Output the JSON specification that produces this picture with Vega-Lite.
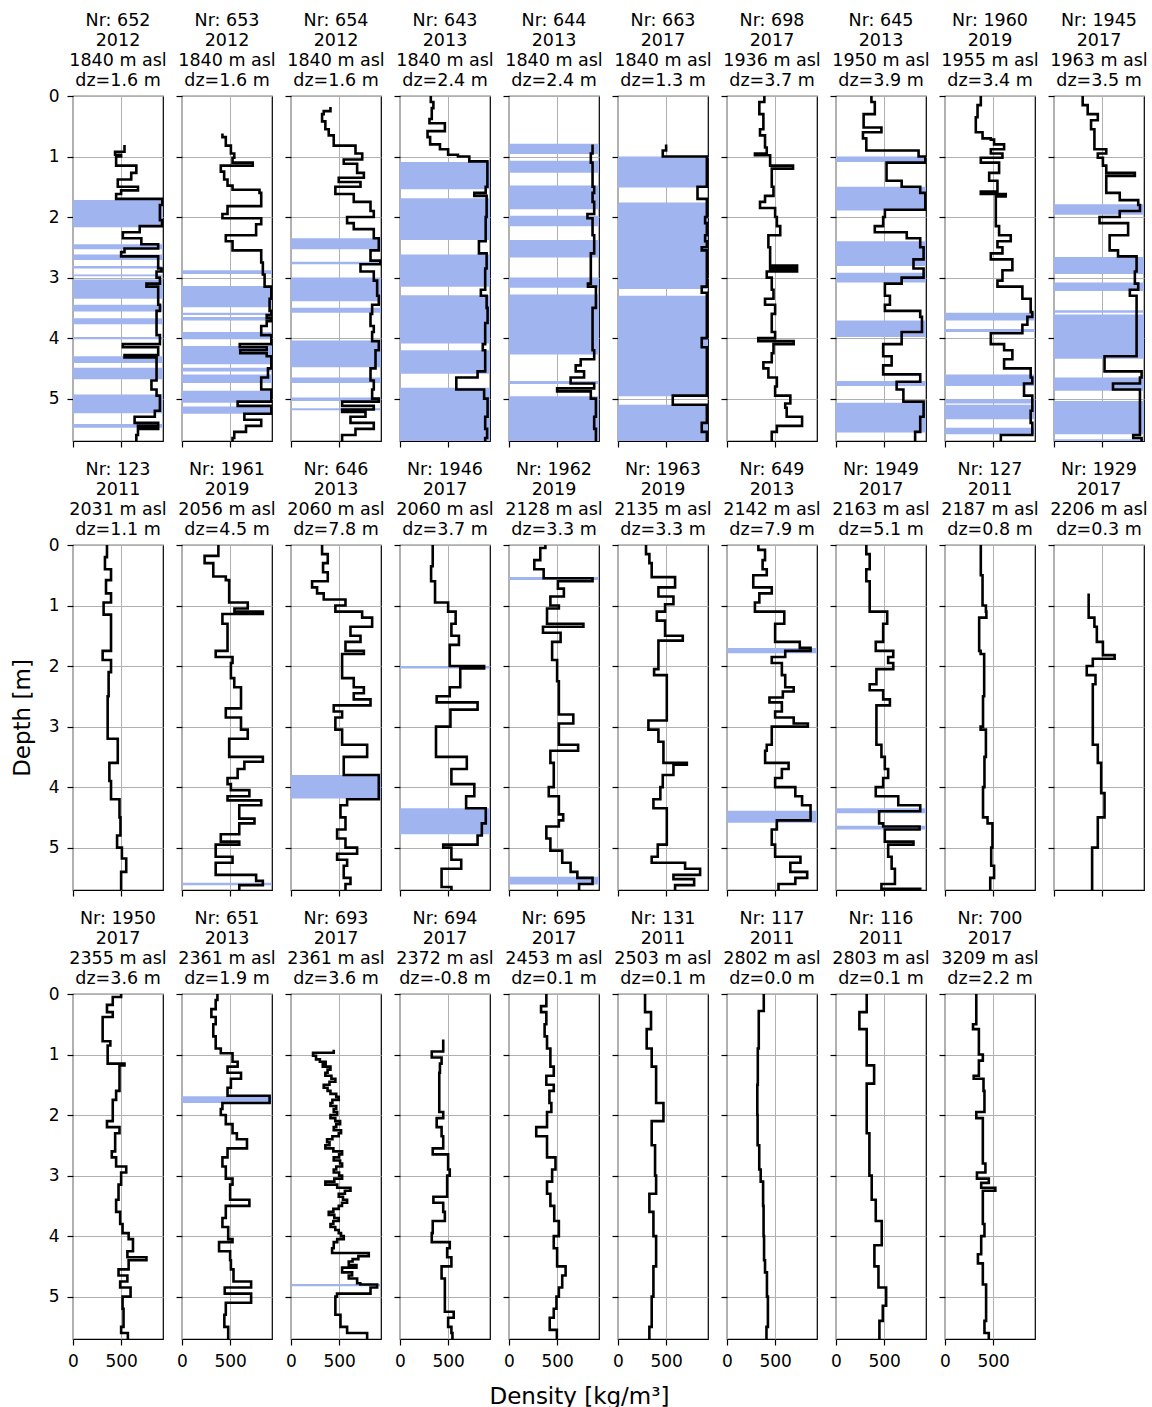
{
"$schema": "https://vega.github.io/schema/vega-lite/v6.json",
"padding": {"left": 10, "top": 10, "right": 5, "bottom": 5},
"title": {"text": "Density [kg/m³]", "orient": "bottom", "anchor": "middle", "fontSize": 23, "lineHeight": 23, "offset": 16},
"datasets": {
"b": [
{"p":652,"d":1.72,"e":2.17},{"p":652,"d":2.45,"e":2.53},{"p":652,"d":2.62,"e":2.71},{"p":652,"d":2.81,"e":2.85},{"p":652,"d":2.95,"e":2.98},{"p":652,"d":3.03,"e":3.35},{"p":652,"d":3.45,"e":3.56},{"p":652,"d":3.67,"e":3.77},{"p":652,"d":3.98,"e":4.02},{"p":652,"d":4.30,"e":4.41},{"p":652,"d":4.49,"e":4.68},{"p":652,"d":4.93,"e":5.24},{"p":652,"d":5.42,"e":5.48},
{"p":653,"d":2.88,"e":2.94},{"p":653,"d":3.14,"e":3.49},{"p":653,"d":3.58,"e":3.62},{"p":653,"d":3.65,"e":3.71},{"p":653,"d":3.9,"e":4.02},{"p":653,"d":4.13,"e":4.43},{"p":653,"d":4.49,"e":4.55},{"p":653,"d":4.6,"e":4.74},{"p":653,"d":4.87,"e":5.07},{"p":653,"d":5.13,"e":5.25},
{"p":654,"d":2.35,"e":2.53},{"p":654,"d":2.74,"e":2.78},{"p":654,"d":3.0,"e":3.39},{"p":654,"d":3.5,"e":3.58},{"p":654,"d":4.04,"e":4.48},{"p":654,"d":4.65,"e":4.74},{"p":654,"d":4.98,"e":5.04},{"p":654,"d":5.16,"e":5.19},
{"p":643,"d":1.09,"e":1.54},{"p":643,"d":1.69,"e":2.38},{"p":643,"d":2.62,"e":3.15},{"p":643,"d":3.29,"e":4.09},{"p":643,"d":4.2,"e":4.59},{"p":643,"d":4.82,"e":5.7},
{"p":644,"d":0.79,"e":0.96},{"p":644,"d":1.07,"e":1.27},{"p":644,"d":1.48,"e":1.87},{"p":644,"d":1.98,"e":2.15},{"p":644,"d":2.38,"e":2.67},{"p":644,"d":3.0,"e":3.17},{"p":644,"d":3.28,"e":4.27},{"p":644,"d":4.71,"e":4.76},{"p":644,"d":4.96,"e":5.7},
{"p":663,"d":1.0,"e":1.51},{"p":663,"d":1.76,"e":3.19},{"p":663,"d":3.3,"e":4.96},{"p":663,"d":5.1,"e":5.7},
{"p":645,"d":1.0,"e":1.09},{"p":645,"d":1.5,"e":1.89},{"p":645,"d":2.4,"e":2.81},{"p":645,"d":2.92,"e":3.08},{"p":645,"d":3.71,"e":3.98},{"p":645,"d":4.71,"e":4.79},{"p":645,"d":5.07,"e":5.56},
{"p":1960,"d":3.58,"e":3.71},{"p":1960,"d":3.85,"e":3.9},{"p":1960,"d":4.6,"e":4.79},{"p":1960,"d":5.01,"e":5.08},{"p":1960,"d":5.1,"e":5.34},{"p":1960,"d":5.48,"e":5.59},
{"p":1945,"d":1.79,"e":1.96},{"p":1945,"d":2.66,"e":2.94},{"p":1945,"d":3.08,"e":3.22},{"p":1945,"d":3.54,"e":3.58},{"p":1945,"d":3.61,"e":4.34},{"p":1945,"d":4.65,"e":4.87},{"p":1945,"d":5.04,"e":5.59},{"p":1945,"d":5.67,"e":5.7},
{"p":1961,"d":5.58,"e":5.62},
{"p":646,"d":3.8,"e":4.19},
{"p":1946,"d":2.0,"e":2.04},{"p":1946,"d":4.35,"e":4.78},
{"p":1962,"d":0.53,"e":0.58},{"p":1962,"d":5.48,"e":5.61},
{"p":649,"d":1.7,"e":1.79},{"p":649,"d":4.39,"e":4.59},
{"p":1949,"d":4.35,"e":4.43},{"p":1949,"d":4.64,"e":4.7},
{"p":651,"d":1.69,"e":1.8},
{"p":693,"d":4.79,"e":4.83}
],
"l": [
{"p":652,"d":0.81,"v":535},{"p":652,"d":0.92,"v":437},{"p":652,"d":0.97,"v":500},{"p":652,"d":1.0,"v":448},{"p":652,"d":1.15,"v":658},{"p":652,"d":1.27,"v":605},{"p":652,"d":1.38,"v":465},{"p":652,"d":1.5,"v":675},{"p":652,"d":1.56,"v":500},{"p":652,"d":1.62,"v":448},{"p":652,"d":1.7,"v":928},{"p":652,"d":1.8,"v":903},{"p":652,"d":2.05,"v":925},{"p":652,"d":2.15,"v":693},{"p":652,"d":2.25,"v":518},{"p":652,"d":2.35,"v":710},{"p":652,"d":2.45,"v":885},{"p":652,"d":2.52,"v":535},{"p":652,"d":2.58,"v":500},{"p":652,"d":2.65,"v":885},{"p":652,"d":2.85,"v":920},{"p":652,"d":2.9,"v":868},{"p":652,"d":3.0,"v":903},{"p":652,"d":3.1,"v":763},{"p":652,"d":3.15,"v":885},{"p":652,"d":3.45,"v":903},{"p":652,"d":3.55,"v":868},{"p":652,"d":3.95,"v":903},{"p":652,"d":4.1,"v":518},{"p":652,"d":4.15,"v":885},{"p":652,"d":4.28,"v":535},{"p":652,"d":4.32,"v":868},{"p":652,"d":4.7,"v":815},{"p":652,"d":4.85,"v":868},{"p":652,"d":4.95,"v":903},{"p":652,"d":5.2,"v":850},{"p":652,"d":5.3,"v":640},{"p":652,"d":5.4,"v":885},{"p":652,"d":5.45,"v":675},{"p":652,"d":5.48,"v":885},{"p":652,"d":5.5,"v":675},{"p":652,"d":5.6,"v":658},{"p":652,"d":5.7,"v":658},
{"p":653,"d":0.62,"v":420},{"p":653,"d":0.68,"v":455},{"p":653,"d":0.82,"v":508},{"p":653,"d":0.95,"v":543},{"p":653,"d":1.02,"v":525},{"p":653,"d":1.1,"v":735},{"p":653,"d":1.15,"v":403},{"p":653,"d":1.25,"v":438},{"p":653,"d":1.38,"v":473},{"p":653,"d":1.48,"v":525},{"p":653,"d":1.55,"v":805},{"p":653,"d":1.6,"v":823},{"p":653,"d":1.82,"v":473},{"p":653,"d":1.95,"v":420},{"p":653,"d":2.02,"v":823},{"p":653,"d":2.12,"v":770},{"p":653,"d":2.3,"v":455},{"p":653,"d":2.4,"v":525},{"p":653,"d":2.55,"v":823},{"p":653,"d":2.75,"v":840},{"p":653,"d":2.95,"v":858},{"p":653,"d":3.15,"v":928},{"p":653,"d":3.35,"v":910},{"p":653,"d":3.55,"v":928},{"p":653,"d":3.62,"v":880},{"p":653,"d":3.67,"v":928},{"p":653,"d":3.72,"v":880},{"p":653,"d":3.8,"v":823},{"p":653,"d":3.95,"v":928},{"p":653,"d":4.1,"v":600},{"p":653,"d":4.15,"v":880},{"p":653,"d":4.2,"v":605},{"p":653,"d":4.25,"v":880},{"p":653,"d":4.3,"v":928},{"p":653,"d":4.5,"v":893},{"p":653,"d":4.65,"v":823},{"p":653,"d":4.85,"v":928},{"p":653,"d":5.05,"v":578},{"p":653,"d":5.12,"v":928},{"p":653,"d":5.25,"v":648},{"p":653,"d":5.35,"v":823},{"p":653,"d":5.45,"v":665},{"p":653,"d":5.55,"v":543},{"p":653,"d":5.65,"v":525},{"p":653,"d":5.7,"v":525},
{"p":654,"d":0.18,"v":410},{"p":654,"d":0.25,"v":340},{"p":654,"d":0.3,"v":323},{"p":654,"d":0.42,"v":357},{"p":654,"d":0.55,"v":392},{"p":654,"d":0.65,"v":444},{"p":654,"d":0.82,"v":670},{"p":654,"d":0.95,"v":740},{"p":654,"d":1.05,"v":548},{"p":654,"d":1.12,"v":687},{"p":654,"d":1.27,"v":757},{"p":654,"d":1.35,"v":496},{"p":654,"d":1.42,"v":722},{"p":654,"d":1.5,"v":461},{"p":654,"d":1.62,"v":652},{"p":654,"d":1.75,"v":826},{"p":654,"d":1.9,"v":860},{"p":654,"d":2.0,"v":583},{"p":654,"d":2.1,"v":652},{"p":654,"d":2.2,"v":860},{"p":654,"d":2.35,"v":912},{"p":654,"d":2.55,"v":826},{"p":654,"d":2.72,"v":928},{"p":654,"d":2.78,"v":722},{"p":654,"d":2.9,"v":860},{"p":654,"d":3.05,"v":895},{"p":654,"d":3.3,"v":912},{"p":654,"d":3.45,"v":843},{"p":654,"d":3.6,"v":826},{"p":654,"d":3.8,"v":860},{"p":654,"d":3.9,"v":843},{"p":654,"d":4.05,"v":912},{"p":654,"d":4.2,"v":878},{"p":654,"d":4.5,"v":826},{"p":654,"d":4.7,"v":860},{"p":654,"d":4.85,"v":843},{"p":654,"d":5.0,"v":912},{"p":654,"d":5.05,"v":531},{"p":654,"d":5.12,"v":860},{"p":654,"d":5.18,"v":531},{"p":654,"d":5.22,"v":774},{"p":654,"d":5.3,"v":618},{"p":654,"d":5.4,"v":860},{"p":654,"d":5.5,"v":670},{"p":654,"d":5.6,"v":531},{"p":654,"d":5.7,"v":531},
{"p":643,"d":0,"v":320},{"p":643,"d":0.1,"v":347},{"p":643,"d":0.2,"v":330},{"p":643,"d":0.38,"v":306},{"p":643,"d":0.45,"v":466},{"p":643,"d":0.58,"v":286},{"p":643,"d":0.68,"v":313},{"p":643,"d":0.8,"v":415},{"p":643,"d":0.88,"v":500},{"p":643,"d":0.97,"v":602},{"p":643,"d":1.0,"v":720},{"p":643,"d":1.08,"v":908},{"p":643,"d":1.5,"v":890},{"p":643,"d":1.6,"v":772},{"p":643,"d":1.65,"v":900},{"p":643,"d":2.0,"v":890},{"p":643,"d":2.4,"v":820},{"p":643,"d":2.6,"v":900},{"p":643,"d":2.85,"v":885},{"p":643,"d":3.2,"v":840},{"p":643,"d":3.3,"v":900},{"p":643,"d":3.5,"v":910},{"p":643,"d":3.75,"v":885},{"p":643,"d":4.1,"v":860},{"p":643,"d":4.2,"v":885},{"p":643,"d":4.55,"v":806},{"p":643,"d":4.65,"v":585},{"p":643,"d":4.85,"v":874},{"p":643,"d":5.0,"v":910},{"p":643,"d":5.3,"v":885},{"p":643,"d":5.5,"v":905},{"p":643,"d":5.65,"v":885},{"p":643,"d":5.7,"v":885},
{"p":644,"d":0.8,"v":868},{"p":644,"d":0.95,"v":850},{"p":644,"d":1.1,"v":868},{"p":644,"d":1.5,"v":885},{"p":644,"d":1.6,"v":868},{"p":644,"d":1.75,"v":885},{"p":644,"d":1.95,"v":815},{"p":644,"d":2.02,"v":868},{"p":644,"d":2.3,"v":885},{"p":644,"d":2.6,"v":850},{"p":644,"d":3.1,"v":820},{"p":644,"d":3.15,"v":903},{"p":644,"d":3.5,"v":868},{"p":644,"d":4.2,"v":885},{"p":644,"d":4.35,"v":745},{"p":644,"d":4.45,"v":693},{"p":644,"d":4.55,"v":780},{"p":644,"d":4.65,"v":640},{"p":644,"d":4.75,"v":885},{"p":644,"d":4.83,"v":500},{"p":644,"d":4.88,"v":850},{"p":644,"d":5.0,"v":903},{"p":644,"d":5.3,"v":885},{"p":644,"d":5.5,"v":903},{"p":644,"d":5.7,"v":903},
{"p":663,"d":0.8,"v":500},{"p":663,"d":0.9,"v":465},{"p":663,"d":1.0,"v":923},{"p":663,"d":1.5,"v":826},{"p":663,"d":1.7,"v":923},{"p":663,"d":2.0,"v":905},{"p":663,"d":2.1,"v":923},{"p":663,"d":2.3,"v":905},{"p":663,"d":2.4,"v":923},{"p":663,"d":2.5,"v":870},{"p":663,"d":2.55,"v":923},{"p":663,"d":3.15,"v":870},{"p":663,"d":3.25,"v":923},{"p":663,"d":4.0,"v":870},{"p":663,"d":4.15,"v":923},{"p":663,"d":4.95,"v":569},{"p":663,"d":5.1,"v":923},{"p":663,"d":5.4,"v":870},{"p":663,"d":5.55,"v":923},{"p":663,"d":5.7,"v":923},
{"p":698,"d":0,"v":388},{"p":698,"d":0.1,"v":336},{"p":698,"d":0.3,"v":378},{"p":698,"d":0.55,"v":343},{"p":698,"d":0.65,"v":395},{"p":698,"d":0.85,"v":413},{"p":698,"d":0.95,"v":290},{"p":698,"d":0.98,"v":448},{"p":698,"d":1.15,"v":686},{"p":698,"d":1.2,"v":465},{"p":698,"d":1.5,"v":483},{"p":698,"d":1.65,"v":395},{"p":698,"d":1.75,"v":343},{"p":698,"d":1.85,"v":500},{"p":698,"d":2.0,"v":518},{"p":698,"d":2.15,"v":553},{"p":698,"d":2.3,"v":430},{"p":698,"d":2.5,"v":448},{"p":698,"d":2.8,"v":728},{"p":698,"d":2.83,"v":448},{"p":698,"d":2.86,"v":728},{"p":698,"d":2.9,"v":413},{"p":698,"d":3.0,"v":465},{"p":698,"d":3.2,"v":483},{"p":698,"d":3.35,"v":395},{"p":698,"d":3.45,"v":500},{"p":698,"d":3.6,"v":465},{"p":698,"d":3.9,"v":500},{"p":698,"d":4.0,"v":325},{"p":698,"d":4.05,"v":693},{"p":698,"d":4.1,"v":483},{"p":698,"d":4.25,"v":465},{"p":698,"d":4.4,"v":378},{"p":698,"d":4.5,"v":430},{"p":698,"d":4.65,"v":518},{"p":698,"d":4.8,"v":500},{"p":698,"d":4.95,"v":658},{"p":698,"d":5.08,"v":605},{"p":698,"d":5.15,"v":620},{"p":698,"d":5.3,"v":780},{"p":698,"d":5.45,"v":518},{"p":698,"d":5.55,"v":465},{"p":698,"d":5.7,"v":465},
{"p":645,"d":0,"v":368},{"p":645,"d":0.1,"v":403},{"p":645,"d":0.3,"v":287},{"p":645,"d":0.52,"v":472},{"p":645,"d":0.6,"v":280},{"p":645,"d":0.7,"v":315},{"p":645,"d":0.9,"v":858},{"p":645,"d":1.0,"v":928},{"p":645,"d":1.1,"v":525},{"p":645,"d":1.4,"v":682},{"p":645,"d":1.5,"v":875},{"p":645,"d":1.6,"v":928},{"p":645,"d":1.88,"v":508},{"p":645,"d":2.0,"v":490},{"p":645,"d":2.15,"v":403},{"p":645,"d":2.25,"v":735},{"p":645,"d":2.35,"v":875},{"p":645,"d":2.5,"v":910},{"p":645,"d":2.7,"v":805},{"p":645,"d":2.85,"v":910},{"p":645,"d":3.0,"v":682},{"p":645,"d":3.1,"v":508},{"p":645,"d":3.3,"v":560},{"p":645,"d":3.45,"v":508},{"p":645,"d":3.55,"v":875},{"p":645,"d":3.65,"v":893},{"p":645,"d":3.9,"v":682},{"p":645,"d":4.1,"v":490},{"p":645,"d":4.3,"v":578},{"p":645,"d":4.45,"v":490},{"p":645,"d":4.6,"v":875},{"p":645,"d":4.72,"v":630},{"p":645,"d":4.85,"v":700},{"p":645,"d":5.05,"v":910},{"p":645,"d":5.3,"v":875},{"p":645,"d":5.55,"v":822},{"p":645,"d":5.7,"v":822},
{"p":1960,"d":0,"v":372},{"p":1960,"d":0.15,"v":338},{"p":1960,"d":0.35,"v":320},{"p":1960,"d":0.6,"v":390},{"p":1960,"d":0.7,"v":476},{"p":1960,"d":0.72,"v":510},{"p":1960,"d":0.8,"v":614},{"p":1960,"d":0.88,"v":476},{"p":1960,"d":0.95,"v":597},{"p":1960,"d":1.02,"v":372},{"p":1960,"d":1.1,"v":562},{"p":1960,"d":1.27,"v":459},{"p":1960,"d":1.4,"v":545},{"p":1960,"d":1.58,"v":372},{"p":1960,"d":1.62,"v":631},{"p":1960,"d":1.66,"v":528},{"p":1960,"d":2.15,"v":562},{"p":1960,"d":2.3,"v":683},{"p":1960,"d":2.4,"v":545},{"p":1960,"d":2.5,"v":597},{"p":1960,"d":2.6,"v":476},{"p":1960,"d":2.7,"v":700},{"p":1960,"d":2.88,"v":597},{"p":1960,"d":3.05,"v":545},{"p":1960,"d":3.15,"v":804},{"p":1960,"d":3.35,"v":890},{"p":1960,"d":3.57,"v":907},{"p":1960,"d":3.65,"v":856},{"p":1960,"d":3.78,"v":804},{"p":1960,"d":3.92,"v":476},{"p":1960,"d":4.1,"v":614},{"p":1960,"d":4.2,"v":700},{"p":1960,"d":4.35,"v":614},{"p":1960,"d":4.5,"v":890},{"p":1960,"d":4.65,"v":907},{"p":1960,"d":4.75,"v":821},{"p":1960,"d":4.95,"v":907},{"p":1960,"d":5.2,"v":890},{"p":1960,"d":5.4,"v":907},{"p":1960,"d":5.6,"v":580},{"p":1960,"d":5.7,"v":580},
{"p":1945,"d":0,"v":298},{"p":1945,"d":0.15,"v":350},{"p":1945,"d":0.3,"v":455},{"p":1945,"d":0.4,"v":385},{"p":1945,"d":0.55,"v":420},{"p":1945,"d":0.88,"v":543},{"p":1945,"d":0.95,"v":455},{"p":1945,"d":1.02,"v":508},{"p":1945,"d":1.15,"v":543},{"p":1945,"d":1.27,"v":840},{"p":1945,"d":1.32,"v":543},{"p":1945,"d":1.6,"v":683},{"p":1945,"d":1.72,"v":875},{"p":1945,"d":1.8,"v":893},{"p":1945,"d":1.9,"v":683},{"p":1945,"d":2.0,"v":473},{"p":1945,"d":2.1,"v":770},{"p":1945,"d":2.3,"v":578},{"p":1945,"d":2.55,"v":665},{"p":1945,"d":2.65,"v":858},{"p":1945,"d":2.9,"v":840},{"p":1945,"d":3.1,"v":875},{"p":1945,"d":3.2,"v":788},{"p":1945,"d":3.3,"v":858},{"p":1945,"d":4.3,"v":525},{"p":1945,"d":4.55,"v":910},{"p":1945,"d":4.65,"v":893},{"p":1945,"d":4.75,"v":613},{"p":1945,"d":4.85,"v":893},{"p":1945,"d":5.6,"v":823},{"p":1945,"d":5.65,"v":910},{"p":1945,"d":5.7,"v":910},
{"p":123,"d":0,"v":353},{"p":123,"d":0.2,"v":332},{"p":123,"d":0.4,"v":395},{"p":123,"d":0.58,"v":343},{"p":123,"d":0.8,"v":395},{"p":123,"d":0.95,"v":318},{"p":123,"d":1.15,"v":395},{"p":123,"d":1.75,"v":308},{"p":123,"d":1.9,"v":395},{"p":123,"d":2.1,"v":370},{"p":123,"d":2.5,"v":360},{"p":123,"d":3.2,"v":465},{"p":123,"d":3.6,"v":378},{"p":123,"d":3.9,"v":395},{"p":123,"d":4.2,"v":483},{"p":123,"d":4.5,"v":493},{"p":123,"d":4.8,"v":458},{"p":123,"d":5.0,"v":508},{"p":123,"d":5.18,"v":553},{"p":123,"d":5.4,"v":500},{"p":123,"d":5.7,"v":500},
{"p":1961,"d":0,"v":378},{"p":1961,"d":0.18,"v":235},{"p":1961,"d":0.3,"v":325},{"p":1961,"d":0.52,"v":455},{"p":1961,"d":0.58,"v":490},{"p":1961,"d":0.95,"v":683},{"p":1961,"d":1.05,"v":545},{"p":1961,"d":1.1,"v":840},{"p":1961,"d":1.14,"v":420},{"p":1961,"d":1.3,"v":473},{"p":1961,"d":1.75,"v":350},{"p":1961,"d":1.85,"v":525},{"p":1961,"d":1.95,"v":508},{"p":1961,"d":2.2,"v":543},{"p":1961,"d":2.35,"v":613},{"p":1961,"d":2.7,"v":455},{"p":1961,"d":2.85,"v":613},{"p":1961,"d":3.05,"v":683},{"p":1961,"d":3.2,"v":490},{"p":1961,"d":3.5,"v":840},{"p":1961,"d":3.58,"v":648},{"p":1961,"d":3.7,"v":578},{"p":1961,"d":3.85,"v":473},{"p":1961,"d":3.95,"v":508},{"p":1961,"d":4.05,"v":700},{"p":1961,"d":4.15,"v":473},{"p":1961,"d":4.22,"v":823},{"p":1961,"d":4.3,"v":595},{"p":1961,"d":4.52,"v":753},{"p":1961,"d":4.6,"v":595},{"p":1961,"d":4.78,"v":403},{"p":1961,"d":4.9,"v":595},{"p":1961,"d":4.95,"v":350},{"p":1961,"d":5.15,"v":525},{"p":1961,"d":5.25,"v":350},{"p":1961,"d":5.45,"v":770},{"p":1961,"d":5.55,"v":840},{"p":1961,"d":5.62,"v":595},{"p":1961,"d":5.7,"v":595},
{"p":646,"d":0,"v":323},{"p":646,"d":0.15,"v":382},{"p":646,"d":0.3,"v":333},{"p":646,"d":0.45,"v":382},{"p":646,"d":0.6,"v":219},{"p":646,"d":0.7,"v":271},{"p":646,"d":0.8,"v":340},{"p":646,"d":0.9,"v":566},{"p":646,"d":1.0,"v":461},{"p":646,"d":1.1,"v":739},{"p":646,"d":1.2,"v":843},{"p":646,"d":1.35,"v":618},{"p":646,"d":1.5,"v":722},{"p":646,"d":1.6,"v":566},{"p":646,"d":1.75,"v":757},{"p":646,"d":1.8,"v":531},{"p":646,"d":2.2,"v":652},{"p":646,"d":2.35,"v":757},{"p":646,"d":2.45,"v":652},{"p":646,"d":2.55,"v":826},{"p":646,"d":2.65,"v":444},{"p":646,"d":2.75,"v":531},{"p":646,"d":2.85,"v":461},{"p":646,"d":3.05,"v":531},{"p":646,"d":3.3,"v":791},{"p":646,"d":3.5,"v":548},{"p":646,"d":3.8,"v":912},{"p":646,"d":4.2,"v":583},{"p":646,"d":4.3,"v":514},{"p":646,"d":4.5,"v":566},{"p":646,"d":4.7,"v":479},{"p":646,"d":4.85,"v":566},{"p":646,"d":5.0,"v":687},{"p":646,"d":5.1,"v":479},{"p":646,"d":5.2,"v":583},{"p":646,"d":5.3,"v":548},{"p":646,"d":5.5,"v":618},{"p":646,"d":5.6,"v":566},{"p":646,"d":5.7,"v":566},
{"p":1946,"d":0,"v":340},{"p":1946,"d":0.35,"v":323},{"p":1946,"d":0.6,"v":364},{"p":1946,"d":0.95,"v":500},{"p":1946,"d":1.1,"v":578},{"p":1946,"d":1.3,"v":534},{"p":1946,"d":1.5,"v":612},{"p":1946,"d":1.65,"v":517},{"p":1946,"d":2.0,"v":874},{"p":1946,"d":2.04,"v":626},{"p":1946,"d":2.35,"v":517},{"p":1946,"d":2.5,"v":381},{"p":1946,"d":2.6,"v":806},{"p":1946,"d":2.72,"v":524},{"p":1946,"d":3.0,"v":374},{"p":1946,"d":3.5,"v":694},{"p":1946,"d":3.7,"v":534},{"p":1946,"d":3.95,"v":772},{"p":1946,"d":4.15,"v":687},{"p":1946,"d":4.35,"v":891},{"p":1946,"d":4.6,"v":850},{"p":1946,"d":4.8,"v":806},{"p":1946,"d":4.95,"v":449},{"p":1946,"d":5.0,"v":534},{"p":1946,"d":5.2,"v":636},{"p":1946,"d":5.35,"v":432},{"p":1946,"d":5.65,"v":534},{"p":1946,"d":5.7,"v":534},
{"p":1962,"d":0,"v":378},{"p":1962,"d":0.05,"v":325},{"p":1962,"d":0.25,"v":263},{"p":1962,"d":0.4,"v":360},{"p":1962,"d":0.55,"v":868},{"p":1962,"d":0.6,"v":508},{"p":1962,"d":0.72,"v":570},{"p":1962,"d":0.85,"v":430},{"p":1962,"d":1.0,"v":518},{"p":1962,"d":1.05,"v":395},{"p":1962,"d":1.3,"v":773},{"p":1962,"d":1.35,"v":353},{"p":1962,"d":1.45,"v":536},{"p":1962,"d":1.6,"v":448},{"p":1962,"d":1.9,"v":500},{"p":1962,"d":2.25,"v":518},{"p":1962,"d":2.8,"v":668},{"p":1962,"d":2.95,"v":518},{"p":1962,"d":3.3,"v":718},{"p":1962,"d":3.4,"v":430},{"p":1962,"d":3.6,"v":465},{"p":1962,"d":4.0,"v":413},{"p":1962,"d":4.15,"v":518},{"p":1962,"d":4.45,"v":563},{"p":1962,"d":4.55,"v":518},{"p":1962,"d":4.65,"v":388},{"p":1962,"d":4.85,"v":430},{"p":1962,"d":5.05,"v":553},{"p":1962,"d":5.25,"v":640},{"p":1962,"d":5.4,"v":710},{"p":1962,"d":5.5,"v":868},{"p":1962,"d":5.6,"v":728},{"p":1962,"d":5.7,"v":728},
{"p":1963,"d":0,"v":291},{"p":1963,"d":0.15,"v":326},{"p":1963,"d":0.3,"v":350},{"p":1963,"d":0.53,"v":593},{"p":1963,"d":0.7,"v":420},{"p":1963,"d":0.85,"v":576},{"p":1963,"d":0.98,"v":489},{"p":1963,"d":1.1,"v":403},{"p":1963,"d":1.25,"v":489},{"p":1963,"d":1.5,"v":673},{"p":1963,"d":1.58,"v":420},{"p":1963,"d":2.05,"v":375},{"p":1963,"d":2.15,"v":507},{"p":1963,"d":2.9,"v":316},{"p":1963,"d":3.05,"v":420},{"p":1963,"d":3.25,"v":472},{"p":1963,"d":3.6,"v":715},{"p":1963,"d":3.63,"v":576},{"p":1963,"d":3.8,"v":465},{"p":1963,"d":4.0,"v":440},{"p":1963,"d":4.2,"v":368},{"p":1963,"d":4.35,"v":507},{"p":1963,"d":4.95,"v":413},{"p":1963,"d":5.15,"v":350},{"p":1963,"d":5.25,"v":697},{"p":1963,"d":5.35,"v":853},{"p":1963,"d":5.45,"v":576},{"p":1963,"d":5.52,"v":791},{"p":1963,"d":5.62,"v":593},{"p":1963,"d":5.7,"v":593},
{"p":649,"d":0,"v":326},{"p":649,"d":0.08,"v":395},{"p":649,"d":0.25,"v":370},{"p":649,"d":0.4,"v":413},{"p":649,"d":0.5,"v":273},{"p":649,"d":0.7,"v":465},{"p":649,"d":0.8,"v":336},{"p":649,"d":0.95,"v":290},{"p":649,"d":1.1,"v":595},{"p":649,"d":1.3,"v":500},{"p":649,"d":1.6,"v":756},{"p":649,"d":1.7,"v":868},{"p":649,"d":1.75,"v":605},{"p":649,"d":1.85,"v":465},{"p":649,"d":1.95,"v":570},{"p":649,"d":2.15,"v":605},{"p":649,"d":2.35,"v":693},{"p":649,"d":2.42,"v":580},{"p":649,"d":2.52,"v":441},{"p":649,"d":2.6,"v":570},{"p":649,"d":2.75,"v":500},{"p":649,"d":2.85,"v":693},{"p":649,"d":2.95,"v":840},{"p":649,"d":3.0,"v":465},{"p":649,"d":3.3,"v":413},{"p":649,"d":3.4,"v":396},{"p":649,"d":3.6,"v":640},{"p":649,"d":3.7,"v":570},{"p":649,"d":3.85,"v":500},{"p":649,"d":4.0,"v":710},{"p":649,"d":4.15,"v":780},{"p":649,"d":4.3,"v":868},{"p":649,"d":4.55,"v":518},{"p":649,"d":4.7,"v":465},{"p":649,"d":4.95,"v":500},{"p":649,"d":5.15,"v":763},{"p":649,"d":5.25,"v":658},{"p":649,"d":5.4,"v":833},{"p":649,"d":5.5,"v":710},{"p":649,"d":5.6,"v":535},{"p":649,"d":5.7,"v":535},
{"p":1949,"d":0,"v":315},{"p":1949,"d":0.15,"v":350},{"p":1949,"d":0.4,"v":315},{"p":1949,"d":0.6,"v":350},{"p":1949,"d":1.1,"v":532},{"p":1949,"d":1.3,"v":490},{"p":1949,"d":1.6,"v":413},{"p":1949,"d":1.75,"v":595},{"p":1949,"d":1.85,"v":542},{"p":1949,"d":1.95,"v":595},{"p":1949,"d":2.05,"v":420},{"p":1949,"d":2.3,"v":350},{"p":1949,"d":2.4,"v":490},{"p":1949,"d":2.55,"v":560},{"p":1949,"d":2.65,"v":420},{"p":1949,"d":3.3,"v":472},{"p":1949,"d":3.5,"v":507},{"p":1949,"d":3.7,"v":542},{"p":1949,"d":3.85,"v":490},{"p":1949,"d":4.0,"v":413},{"p":1949,"d":4.15,"v":647},{"p":1949,"d":4.3,"v":875},{"p":1949,"d":4.4,"v":448},{"p":1949,"d":4.6,"v":490},{"p":1949,"d":4.65,"v":868},{"p":1949,"d":4.7,"v":507},{"p":1949,"d":4.9,"v":805},{"p":1949,"d":4.95,"v":542},{"p":1949,"d":5.15,"v":578},{"p":1949,"d":5.35,"v":612},{"p":1949,"d":5.6,"v":472},{"p":1949,"d":5.68,"v":875},{"p":1949,"d":5.7,"v":875},
{"p":127,"d":0,"v":372},{"p":127,"d":0.5,"v":390},{"p":127,"d":1.0,"v":425},{"p":127,"d":1.1,"v":430},{"p":127,"d":1.2,"v":355},{"p":127,"d":1.75,"v":370},{"p":127,"d":1.8,"v":407},{"p":127,"d":2.5,"v":395},{"p":127,"d":3.0,"v":370},{"p":127,"d":3.05,"v":425},{"p":127,"d":3.5,"v":410},{"p":127,"d":4.0,"v":395},{"p":127,"d":4.5,"v":442},{"p":127,"d":4.6,"v":493},{"p":127,"d":5.0,"v":480},{"p":127,"d":5.3,"v":510},{"p":127,"d":5.5,"v":470},{"p":127,"d":5.7,"v":462},
{"p":1929,"d":0.8,"v":360},{"p":1929,"d":1.2,"v":420},{"p":1929,"d":1.35,"v":445},{"p":1929,"d":1.6,"v":508},{"p":1929,"d":1.82,"v":630},{"p":1929,"d":1.88,"v":403},{"p":1929,"d":2.0,"v":340},{"p":1929,"d":2.15,"v":431},{"p":1929,"d":2.3,"v":403},{"p":1929,"d":3.3,"v":455},{"p":1929,"d":3.6,"v":490},{"p":1929,"d":4.1,"v":525},{"p":1929,"d":4.5,"v":455},{"p":1929,"d":5.0,"v":396},{"p":1929,"d":5.7,"v":396},
{"p":1950,"d":0,"v":500},{"p":1950,"d":0.05,"v":413},{"p":1950,"d":0.18,"v":353},{"p":1950,"d":0.3,"v":413},{"p":1950,"d":0.38,"v":308},{"p":1950,"d":0.78,"v":388},{"p":1950,"d":0.85,"v":360},{"p":1950,"d":1.15,"v":535},{"p":1950,"d":1.18,"v":483},{"p":1950,"d":1.6,"v":448},{"p":1950,"d":1.75,"v":413},{"p":1950,"d":2.1,"v":353},{"p":1950,"d":2.2,"v":483},{"p":1950,"d":2.3,"v":438},{"p":1950,"d":2.6,"v":403},{"p":1950,"d":2.7,"v":448},{"p":1950,"d":2.85,"v":553},{"p":1950,"d":2.95,"v":500},{"p":1950,"d":3.15,"v":473},{"p":1950,"d":3.4,"v":448},{"p":1950,"d":3.6,"v":490},{"p":1950,"d":3.8,"v":515},{"p":1950,"d":3.95,"v":578},{"p":1950,"d":4.05,"v":623},{"p":1950,"d":4.25,"v":565},{"p":1950,"d":4.35,"v":763},{"p":1950,"d":4.4,"v":578},{"p":1950,"d":4.55,"v":473},{"p":1950,"d":4.65,"v":565},{"p":1950,"d":4.75,"v":490},{"p":1950,"d":4.85,"v":598},{"p":1950,"d":5.0,"v":515},{"p":1950,"d":5.2,"v":525},{"p":1950,"d":5.5,"v":500},{"p":1950,"d":5.6,"v":570},{"p":1950,"d":5.7,"v":570},
{"p":651,"d":0,"v":368},{"p":651,"d":0.1,"v":350},{"p":651,"d":0.25,"v":305},{"p":651,"d":0.38,"v":350},{"p":651,"d":0.5,"v":325},{"p":651,"d":0.7,"v":350},{"p":651,"d":0.9,"v":403},{"p":651,"d":0.98,"v":525},{"p":651,"d":1.12,"v":578},{"p":651,"d":1.2,"v":473},{"p":651,"d":1.3,"v":613},{"p":651,"d":1.4,"v":508},{"p":651,"d":1.55,"v":473},{"p":651,"d":1.68,"v":910},{"p":651,"d":1.8,"v":420},{"p":651,"d":1.9,"v":403},{"p":651,"d":2.0,"v":455},{"p":651,"d":2.15,"v":525},{"p":651,"d":2.3,"v":570},{"p":651,"d":2.4,"v":675},{"p":651,"d":2.55,"v":473},{"p":651,"d":2.7,"v":420},{"p":651,"d":2.85,"v":455},{"p":651,"d":3.05,"v":525},{"p":651,"d":3.15,"v":500},{"p":651,"d":3.4,"v":700},{"p":651,"d":3.5,"v":455},{"p":651,"d":3.7,"v":420},{"p":651,"d":3.85,"v":480},{"p":651,"d":4.05,"v":525},{"p":651,"d":4.1,"v":385},{"p":651,"d":4.25,"v":500},{"p":651,"d":4.4,"v":508},{"p":651,"d":4.55,"v":535},{"p":651,"d":4.75,"v":718},{"p":651,"d":4.85,"v":444},{"p":651,"d":4.95,"v":718},{"p":651,"d":5.1,"v":455},{"p":651,"d":5.3,"v":440},{"p":651,"d":5.5,"v":480},{"p":651,"d":5.7,"v":480},
{"p":693,"d":0.92,"v":444},{"p":693,"d":0.97,"v":229},{"p":693,"d":1.02,"v":260},{"p":693,"d":1.08,"v":300},{"p":693,"d":1.12,"v":360},{"p":693,"d":1.16,"v":330},{"p":693,"d":1.2,"v":410},{"p":693,"d":1.25,"v":380},{"p":693,"d":1.3,"v":357},{"p":693,"d":1.35,"v":420},{"p":693,"d":1.4,"v":461},{"p":693,"d":1.45,"v":400},{"p":693,"d":1.5,"v":340},{"p":693,"d":1.55,"v":380},{"p":693,"d":1.6,"v":410},{"p":693,"d":1.65,"v":470},{"p":693,"d":1.7,"v":496},{"p":693,"d":1.75,"v":430},{"p":693,"d":1.8,"v":410},{"p":693,"d":1.85,"v":470},{"p":693,"d":1.9,"v":444},{"p":693,"d":1.95,"v":480},{"p":693,"d":2.0,"v":410},{"p":693,"d":2.05,"v":460},{"p":693,"d":2.1,"v":510},{"p":693,"d":2.15,"v":470},{"p":693,"d":2.2,"v":444},{"p":693,"d":2.25,"v":520},{"p":693,"d":2.3,"v":496},{"p":693,"d":2.35,"v":430},{"p":693,"d":2.4,"v":375},{"p":693,"d":2.45,"v":400},{"p":693,"d":2.5,"v":357},{"p":693,"d":2.55,"v":440},{"p":693,"d":2.6,"v":531},{"p":693,"d":2.65,"v":500},{"p":693,"d":2.7,"v":444},{"p":693,"d":2.75,"v":510},{"p":693,"d":2.8,"v":531},{"p":693,"d":2.85,"v":470},{"p":693,"d":2.9,"v":444},{"p":693,"d":2.95,"v":500},{"p":693,"d":3.0,"v":531},{"p":693,"d":3.05,"v":450},{"p":693,"d":3.1,"v":357},{"p":693,"d":3.15,"v":480},{"p":693,"d":3.2,"v":618},{"p":693,"d":3.25,"v":560},{"p":693,"d":3.3,"v":496},{"p":693,"d":3.35,"v":540},{"p":693,"d":3.4,"v":583},{"p":693,"d":3.45,"v":530},{"p":693,"d":3.5,"v":496},{"p":693,"d":3.55,"v":440},{"p":693,"d":3.6,"v":392},{"p":693,"d":3.65,"v":450},{"p":693,"d":3.7,"v":496},{"p":693,"d":3.75,"v":440},{"p":693,"d":3.8,"v":410},{"p":693,"d":3.85,"v":460},{"p":693,"d":3.9,"v":496},{"p":693,"d":3.95,"v":520},{"p":693,"d":4.0,"v":548},{"p":693,"d":4.05,"v":480},{"p":693,"d":4.1,"v":444},{"p":693,"d":4.2,"v":427},{"p":693,"d":4.28,"v":808},{"p":693,"d":4.33,"v":700},{"p":693,"d":4.38,"v":640},{"p":693,"d":4.42,"v":600},{"p":693,"d":4.48,"v":680},{"p":693,"d":4.52,"v":531},{"p":693,"d":4.6,"v":635},{"p":693,"d":4.65,"v":600},{"p":693,"d":4.7,"v":687},{"p":693,"d":4.78,"v":720},{"p":693,"d":4.8,"v":895},{"p":693,"d":4.85,"v":826},{"p":693,"d":4.95,"v":478},{"p":693,"d":5.0,"v":461},{"p":693,"d":5.3,"v":514},{"p":693,"d":5.5,"v":583},{"p":693,"d":5.6,"v":791},{"p":693,"d":5.7,"v":791},
{"p":694,"d":0.75,"v":449},{"p":694,"d":0.95,"v":330},{"p":694,"d":1.05,"v":432},{"p":694,"d":1.15,"v":415},{"p":694,"d":1.3,"v":408},{"p":694,"d":1.95,"v":449},{"p":694,"d":2.05,"v":381},{"p":694,"d":2.2,"v":432},{"p":694,"d":2.35,"v":449},{"p":694,"d":2.55,"v":340},{"p":694,"d":2.65,"v":500},{"p":694,"d":2.9,"v":517},{"p":694,"d":3.0,"v":490},{"p":694,"d":3.35,"v":347},{"p":694,"d":3.45,"v":449},{"p":694,"d":3.6,"v":466},{"p":694,"d":3.75,"v":340},{"p":694,"d":3.95,"v":330},{"p":694,"d":4.1,"v":517},{"p":694,"d":4.2,"v":490},{"p":694,"d":4.35,"v":534},{"p":694,"d":4.5,"v":432},{"p":694,"d":4.7,"v":466},{"p":694,"d":5.25,"v":558},{"p":694,"d":5.35,"v":500},{"p":694,"d":5.5,"v":534},{"p":694,"d":5.6,"v":545},{"p":694,"d":5.7,"v":545},
{"p":695,"d":0,"v":388},{"p":695,"d":0.2,"v":333},{"p":695,"d":0.3,"v":388},{"p":695,"d":0.5,"v":370},{"p":695,"d":0.7,"v":395},{"p":695,"d":0.9,"v":430},{"p":695,"d":1.2,"v":465},{"p":695,"d":1.35,"v":388},{"p":695,"d":1.5,"v":465},{"p":695,"d":1.6,"v":420},{"p":695,"d":1.8,"v":440},{"p":695,"d":1.95,"v":395},{"p":695,"d":2.2,"v":283},{"p":695,"d":2.35,"v":395},{"p":695,"d":2.7,"v":483},{"p":695,"d":2.9,"v":448},{"p":695,"d":3.1,"v":395},{"p":695,"d":3.3,"v":430},{"p":695,"d":3.5,"v":470},{"p":695,"d":3.75,"v":518},{"p":695,"d":4.0,"v":465},{"p":695,"d":4.2,"v":500},{"p":695,"d":4.5,"v":588},{"p":695,"d":4.65,"v":553},{"p":695,"d":4.85,"v":518},{"p":695,"d":5.0,"v":493},{"p":695,"d":5.2,"v":465},{"p":695,"d":5.35,"v":423},{"p":695,"d":5.55,"v":497},{"p":695,"d":5.7,"v":497},
{"p":131,"d":0,"v":281},{"p":131,"d":0.3,"v":343},{"p":131,"d":0.58,"v":298},{"p":131,"d":0.9,"v":350},{"p":131,"d":1.2,"v":396},{"p":131,"d":1.8,"v":472},{"p":131,"d":2.1,"v":350},{"p":131,"d":2.5,"v":385},{"p":131,"d":3.0,"v":396},{"p":131,"d":3.3,"v":326},{"p":131,"d":3.6,"v":368},{"p":131,"d":4.0,"v":396},{"p":131,"d":4.5,"v":368},{"p":131,"d":5.0,"v":350},{"p":131,"d":5.5,"v":326},{"p":131,"d":5.7,"v":326},
{"p":117,"d":0,"v":382},{"p":117,"d":0.28,"v":330},{"p":117,"d":0.9,"v":320},{"p":117,"d":1.5,"v":315},{"p":117,"d":2.0,"v":318},{"p":117,"d":2.5,"v":335},{"p":117,"d":2.9,"v":350},{"p":117,"d":3.1,"v":375},{"p":117,"d":3.5,"v":380},{"p":117,"d":4.0,"v":385},{"p":117,"d":4.4,"v":395},{"p":117,"d":4.6,"v":415},{"p":117,"d":5.0,"v":425},{"p":117,"d":5.5,"v":410},{"p":117,"d":5.7,"v":400},
{"p":116,"d":0,"v":319},{"p":116,"d":0.3,"v":243},{"p":116,"d":0.58,"v":319},{"p":116,"d":1.18,"v":396},{"p":116,"d":1.48,"v":319},{"p":116,"d":2.3,"v":347},{"p":116,"d":3.0,"v":371},{"p":116,"d":3.4,"v":413},{"p":116,"d":3.75,"v":475},{"p":116,"d":4.15,"v":399},{"p":116,"d":4.5,"v":441},{"p":116,"d":4.85,"v":521},{"p":116,"d":5.15,"v":486},{"p":116,"d":5.4,"v":451},{"p":116,"d":5.7,"v":451},
{"p":700,"d":0,"v":325},{"p":700,"d":0.5,"v":291},{"p":700,"d":0.58,"v":352},{"p":700,"d":1.0,"v":393},{"p":700,"d":1.1,"v":352},{"p":700,"d":1.35,"v":298},{"p":700,"d":1.4,"v":400},{"p":700,"d":1.6,"v":410},{"p":700,"d":1.95,"v":325},{"p":700,"d":2.05,"v":393},{"p":700,"d":2.8,"v":420},{"p":700,"d":2.95,"v":332},{"p":700,"d":3.05,"v":455},{"p":700,"d":3.12,"v":376},{"p":700,"d":3.2,"v":523},{"p":700,"d":3.25,"v":393},{"p":700,"d":3.8,"v":410},{"p":700,"d":4.0,"v":376},{"p":700,"d":4.3,"v":342},{"p":700,"d":4.45,"v":393},{"p":700,"d":4.8,"v":427},{"p":700,"d":5.4,"v":410},{"p":700,"d":5.6,"v":455},{"p":700,"d":5.7,"v":455}
]
},
"columns": 10,
"spacing": {"row": 104, "column": 19},
"bounds": "flush",
"concat": [
{"title":{"text":["Nr: 652","2012","1840 m asl","dz=1.6 m"],"offset":-2},"encoding":{"y":{"field":"d","type":"quantitative","scale":{"domain":[0,5.7],"reverse":true,"nice":false,"zero":false},"axis":{"values":[0,1,2,3,4,5],"labels":true,"title":null}}},"layer":[{"data":{"name":"b"},"transform":[{"filter":"datum.p==652"}],"mark":"rect","encoding":{"y2":{"field":"e"},"x":{"value":0},"x2":{"value":"width"}}},{"data":{"name":"l"},"transform":[{"filter":"datum.p==652"}],"mark":{"type":"line","clip":true},"encoding":{"x":{"field":"v","type":"quantitative","scale":{"domain":[0,935],"nice":false,"zero":false},"axis":{"values":[0,500],"labels":false,"title":null}},"order":{"field":"d","type":"quantitative"}}}]},
{"title":{"text":["Nr: 653","2012","1840 m asl","dz=1.6 m"]},"encoding":{"y":{"field":"d","type":"quantitative","scale":{"domain":[0,5.7],"reverse":true,"nice":false,"zero":false},"axis":{"values":[0,1,2,3,4,5],"labels":false,"title":null}}},"layer":[{"data":{"name":"b"},"transform":[{"filter":"datum.p==653"}],"mark":"rect","encoding":{"y2":{"field":"e"},"x":{"value":0},"x2":{"value":"width"}}},{"data":{"name":"l"},"transform":[{"filter":"datum.p==653"}],"mark":{"type":"line","clip":true},"encoding":{"x":{"field":"v","type":"quantitative","scale":{"domain":[0,935],"nice":false,"zero":false},"axis":{"values":[0,500],"labels":false,"title":null}},"order":{"field":"d","type":"quantitative"}}}]},
{"title":{"text":["Nr: 654","2012","1840 m asl","dz=1.6 m"]},"encoding":{"y":{"field":"d","type":"quantitative","scale":{"domain":[0,5.7],"reverse":true,"nice":false,"zero":false},"axis":{"values":[0,1,2,3,4,5],"labels":false,"title":null}}},"layer":[{"data":{"name":"b"},"transform":[{"filter":"datum.p==654"}],"mark":"rect","encoding":{"y2":{"field":"e"},"x":{"value":0},"x2":{"value":"width"}}},{"data":{"name":"l"},"transform":[{"filter":"datum.p==654"}],"mark":{"type":"line","clip":true},"encoding":{"x":{"field":"v","type":"quantitative","scale":{"domain":[0,935],"nice":false,"zero":false},"axis":{"values":[0,500],"labels":false,"title":null}},"order":{"field":"d","type":"quantitative"}}}]},
{"title":{"text":["Nr: 643","2013","1840 m asl","dz=2.4 m"]},"encoding":{"y":{"field":"d","type":"quantitative","scale":{"domain":[0,5.7],"reverse":true,"nice":false,"zero":false},"axis":{"values":[0,1,2,3,4,5],"labels":false,"title":null}}},"layer":[{"data":{"name":"b"},"transform":[{"filter":"datum.p==643"}],"mark":"rect","encoding":{"y2":{"field":"e"},"x":{"value":0},"x2":{"value":"width"}}},{"data":{"name":"l"},"transform":[{"filter":"datum.p==643"}],"mark":{"type":"line","clip":true},"encoding":{"x":{"field":"v","type":"quantitative","scale":{"domain":[0,935],"nice":false,"zero":false},"axis":{"values":[0,500],"labels":false,"title":null}},"order":{"field":"d","type":"quantitative"}}}]},
{"title":{"text":["Nr: 644","2013","1840 m asl","dz=2.4 m"]},"encoding":{"y":{"field":"d","type":"quantitative","scale":{"domain":[0,5.7],"reverse":true,"nice":false,"zero":false},"axis":{"values":[0,1,2,3,4,5],"labels":false,"title":null}}},"layer":[{"data":{"name":"b"},"transform":[{"filter":"datum.p==644"}],"mark":"rect","encoding":{"y2":{"field":"e"},"x":{"value":0},"x2":{"value":"width"}}},{"data":{"name":"l"},"transform":[{"filter":"datum.p==644"}],"mark":{"type":"line","clip":true},"encoding":{"x":{"field":"v","type":"quantitative","scale":{"domain":[0,935],"nice":false,"zero":false},"axis":{"values":[0,500],"labels":false,"title":null}},"order":{"field":"d","type":"quantitative"}}}]},
{"title":{"text":["Nr: 663","2017","1840 m asl","dz=1.3 m"]},"encoding":{"y":{"field":"d","type":"quantitative","scale":{"domain":[0,5.7],"reverse":true,"nice":false,"zero":false},"axis":{"values":[0,1,2,3,4,5],"labels":false,"title":null}}},"layer":[{"data":{"name":"b"},"transform":[{"filter":"datum.p==663"}],"mark":"rect","encoding":{"y2":{"field":"e"},"x":{"value":0},"x2":{"value":"width"}}},{"data":{"name":"l"},"transform":[{"filter":"datum.p==663"}],"mark":{"type":"line","clip":true},"encoding":{"x":{"field":"v","type":"quantitative","scale":{"domain":[0,935],"nice":false,"zero":false},"axis":{"values":[0,500],"labels":false,"title":null}},"order":{"field":"d","type":"quantitative"}}}]},
{"title":{"text":["Nr: 698","2017","1936 m asl","dz=3.7 m"]},"encoding":{"y":{"field":"d","type":"quantitative","scale":{"domain":[0,5.7],"reverse":true,"nice":false,"zero":false},"axis":{"values":[0,1,2,3,4,5],"labels":false,"title":null}}},"layer":[{"data":{"name":"l"},"transform":[{"filter":"datum.p==698"}],"mark":{"type":"line","clip":true},"encoding":{"x":{"field":"v","type":"quantitative","scale":{"domain":[0,935],"nice":false,"zero":false},"axis":{"values":[0,500],"labels":false,"title":null}},"order":{"field":"d","type":"quantitative"}}}]},
{"title":{"text":["Nr: 645","2013","1950 m asl","dz=3.9 m"]},"encoding":{"y":{"field":"d","type":"quantitative","scale":{"domain":[0,5.7],"reverse":true,"nice":false,"zero":false},"axis":{"values":[0,1,2,3,4,5],"labels":false,"title":null}}},"layer":[{"data":{"name":"b"},"transform":[{"filter":"datum.p==645"}],"mark":"rect","encoding":{"y2":{"field":"e"},"x":{"value":0},"x2":{"value":"width"}}},{"data":{"name":"l"},"transform":[{"filter":"datum.p==645"}],"mark":{"type":"line","clip":true},"encoding":{"x":{"field":"v","type":"quantitative","scale":{"domain":[0,935],"nice":false,"zero":false},"axis":{"values":[0,500],"labels":false,"title":null}},"order":{"field":"d","type":"quantitative"}}}]},
{"title":{"text":["Nr: 1960","2019","1955 m asl","dz=3.4 m"]},"encoding":{"y":{"field":"d","type":"quantitative","scale":{"domain":[0,5.7],"reverse":true,"nice":false,"zero":false},"axis":{"values":[0,1,2,3,4,5],"labels":false,"title":null}}},"layer":[{"data":{"name":"b"},"transform":[{"filter":"datum.p==1960"}],"mark":"rect","encoding":{"y2":{"field":"e"},"x":{"value":0},"x2":{"value":"width"}}},{"data":{"name":"l"},"transform":[{"filter":"datum.p==1960"}],"mark":{"type":"line","clip":true},"encoding":{"x":{"field":"v","type":"quantitative","scale":{"domain":[0,935],"nice":false,"zero":false},"axis":{"values":[0,500],"labels":false,"title":null}},"order":{"field":"d","type":"quantitative"}}}]},
{"title":{"text":["Nr: 1945","2017","1963 m asl","dz=3.5 m"]},"encoding":{"y":{"field":"d","type":"quantitative","scale":{"domain":[0,5.7],"reverse":true,"nice":false,"zero":false},"axis":{"values":[0,1,2,3,4,5],"labels":false,"title":null}}},"layer":[{"data":{"name":"b"},"transform":[{"filter":"datum.p==1945"}],"mark":"rect","encoding":{"y2":{"field":"e"},"x":{"value":0},"x2":{"value":"width"}}},{"data":{"name":"l"},"transform":[{"filter":"datum.p==1945"}],"mark":{"type":"line","clip":true},"encoding":{"x":{"field":"v","type":"quantitative","scale":{"domain":[0,935],"nice":false,"zero":false},"axis":{"values":[0,500],"labels":false,"title":null}},"order":{"field":"d","type":"quantitative"}}}]},
{"title":{"text":["Nr: 123","2011","2031 m asl","dz=1.1 m"],"offset":-2},"encoding":{"y":{"field":"d","type":"quantitative","scale":{"domain":[0,5.7],"reverse":true,"nice":false,"zero":false},"axis":{"values":[0,1,2,3,4,5],"labels":true,"title":"Depth [m]"}}},"layer":[{"data":{"name":"l"},"transform":[{"filter":"datum.p==123"}],"mark":{"type":"line","clip":true},"encoding":{"x":{"field":"v","type":"quantitative","scale":{"domain":[0,935],"nice":false,"zero":false},"axis":{"values":[0,500],"labels":false,"title":null}},"order":{"field":"d","type":"quantitative"}}}]},
{"title":{"text":["Nr: 1961","2019","2056 m asl","dz=4.5 m"]},"encoding":{"y":{"field":"d","type":"quantitative","scale":{"domain":[0,5.7],"reverse":true,"nice":false,"zero":false},"axis":{"values":[0,1,2,3,4,5],"labels":false,"title":null}}},"layer":[{"data":{"name":"b"},"transform":[{"filter":"datum.p==1961"}],"mark":"rect","encoding":{"y2":{"field":"e"},"x":{"value":0},"x2":{"value":"width"}}},{"data":{"name":"l"},"transform":[{"filter":"datum.p==1961"}],"mark":{"type":"line","clip":true},"encoding":{"x":{"field":"v","type":"quantitative","scale":{"domain":[0,935],"nice":false,"zero":false},"axis":{"values":[0,500],"labels":false,"title":null}},"order":{"field":"d","type":"quantitative"}}}]},
{"title":{"text":["Nr: 646","2013","2060 m asl","dz=7.8 m"]},"encoding":{"y":{"field":"d","type":"quantitative","scale":{"domain":[0,5.7],"reverse":true,"nice":false,"zero":false},"axis":{"values":[0,1,2,3,4,5],"labels":false,"title":null}}},"layer":[{"data":{"name":"b"},"transform":[{"filter":"datum.p==646"}],"mark":"rect","encoding":{"y2":{"field":"e"},"x":{"value":0},"x2":{"value":"width"}}},{"data":{"name":"l"},"transform":[{"filter":"datum.p==646"}],"mark":{"type":"line","clip":true},"encoding":{"x":{"field":"v","type":"quantitative","scale":{"domain":[0,935],"nice":false,"zero":false},"axis":{"values":[0,500],"labels":false,"title":null}},"order":{"field":"d","type":"quantitative"}}}]},
{"title":{"text":["Nr: 1946","2017","2060 m asl","dz=3.7 m"]},"encoding":{"y":{"field":"d","type":"quantitative","scale":{"domain":[0,5.7],"reverse":true,"nice":false,"zero":false},"axis":{"values":[0,1,2,3,4,5],"labels":false,"title":null}}},"layer":[{"data":{"name":"b"},"transform":[{"filter":"datum.p==1946"}],"mark":"rect","encoding":{"y2":{"field":"e"},"x":{"value":0},"x2":{"value":"width"}}},{"data":{"name":"l"},"transform":[{"filter":"datum.p==1946"}],"mark":{"type":"line","clip":true},"encoding":{"x":{"field":"v","type":"quantitative","scale":{"domain":[0,935],"nice":false,"zero":false},"axis":{"values":[0,500],"labels":false,"title":null}},"order":{"field":"d","type":"quantitative"}}}]},
{"title":{"text":["Nr: 1962","2019","2128 m asl","dz=3.3 m"]},"encoding":{"y":{"field":"d","type":"quantitative","scale":{"domain":[0,5.7],"reverse":true,"nice":false,"zero":false},"axis":{"values":[0,1,2,3,4,5],"labels":false,"title":null}}},"layer":[{"data":{"name":"b"},"transform":[{"filter":"datum.p==1962"}],"mark":"rect","encoding":{"y2":{"field":"e"},"x":{"value":0},"x2":{"value":"width"}}},{"data":{"name":"l"},"transform":[{"filter":"datum.p==1962"}],"mark":{"type":"line","clip":true},"encoding":{"x":{"field":"v","type":"quantitative","scale":{"domain":[0,935],"nice":false,"zero":false},"axis":{"values":[0,500],"labels":false,"title":null}},"order":{"field":"d","type":"quantitative"}}}]},
{"title":{"text":["Nr: 1963","2019","2135 m asl","dz=3.3 m"]},"encoding":{"y":{"field":"d","type":"quantitative","scale":{"domain":[0,5.7],"reverse":true,"nice":false,"zero":false},"axis":{"values":[0,1,2,3,4,5],"labels":false,"title":null}}},"layer":[{"data":{"name":"l"},"transform":[{"filter":"datum.p==1963"}],"mark":{"type":"line","clip":true},"encoding":{"x":{"field":"v","type":"quantitative","scale":{"domain":[0,935],"nice":false,"zero":false},"axis":{"values":[0,500],"labels":false,"title":null}},"order":{"field":"d","type":"quantitative"}}}]},
{"title":{"text":["Nr: 649","2013","2142 m asl","dz=7.9 m"]},"encoding":{"y":{"field":"d","type":"quantitative","scale":{"domain":[0,5.7],"reverse":true,"nice":false,"zero":false},"axis":{"values":[0,1,2,3,4,5],"labels":false,"title":null}}},"layer":[{"data":{"name":"b"},"transform":[{"filter":"datum.p==649"}],"mark":"rect","encoding":{"y2":{"field":"e"},"x":{"value":0},"x2":{"value":"width"}}},{"data":{"name":"l"},"transform":[{"filter":"datum.p==649"}],"mark":{"type":"line","clip":true},"encoding":{"x":{"field":"v","type":"quantitative","scale":{"domain":[0,935],"nice":false,"zero":false},"axis":{"values":[0,500],"labels":false,"title":null}},"order":{"field":"d","type":"quantitative"}}}]},
{"title":{"text":["Nr: 1949","2017","2163 m asl","dz=5.1 m"]},"encoding":{"y":{"field":"d","type":"quantitative","scale":{"domain":[0,5.7],"reverse":true,"nice":false,"zero":false},"axis":{"values":[0,1,2,3,4,5],"labels":false,"title":null}}},"layer":[{"data":{"name":"b"},"transform":[{"filter":"datum.p==1949"}],"mark":"rect","encoding":{"y2":{"field":"e"},"x":{"value":0},"x2":{"value":"width"}}},{"data":{"name":"l"},"transform":[{"filter":"datum.p==1949"}],"mark":{"type":"line","clip":true},"encoding":{"x":{"field":"v","type":"quantitative","scale":{"domain":[0,935],"nice":false,"zero":false},"axis":{"values":[0,500],"labels":false,"title":null}},"order":{"field":"d","type":"quantitative"}}}]},
{"title":{"text":["Nr: 127","2011","2187 m asl","dz=0.8 m"]},"encoding":{"y":{"field":"d","type":"quantitative","scale":{"domain":[0,5.7],"reverse":true,"nice":false,"zero":false},"axis":{"values":[0,1,2,3,4,5],"labels":false,"title":null}}},"layer":[{"data":{"name":"l"},"transform":[{"filter":"datum.p==127"}],"mark":{"type":"line","clip":true},"encoding":{"x":{"field":"v","type":"quantitative","scale":{"domain":[0,935],"nice":false,"zero":false},"axis":{"values":[0,500],"labels":false,"title":null}},"order":{"field":"d","type":"quantitative"}}}]},
{"title":{"text":["Nr: 1929","2017","2206 m asl","dz=0.3 m"]},"encoding":{"y":{"field":"d","type":"quantitative","scale":{"domain":[0,5.7],"reverse":true,"nice":false,"zero":false},"axis":{"values":[0,1,2,3,4,5],"labels":false,"title":null}}},"layer":[{"data":{"name":"l"},"transform":[{"filter":"datum.p==1929"}],"mark":{"type":"line","clip":true},"encoding":{"x":{"field":"v","type":"quantitative","scale":{"domain":[0,935],"nice":false,"zero":false},"axis":{"values":[0,500],"labels":false,"title":null}},"order":{"field":"d","type":"quantitative"}}}]},
{"title":{"text":["Nr: 1950","2017","2355 m asl","dz=3.6 m"],"offset":-2},"encoding":{"y":{"field":"d","type":"quantitative","scale":{"domain":[0,5.7],"reverse":true,"nice":false,"zero":false},"axis":{"values":[0,1,2,3,4,5],"labels":true,"title":null}}},"layer":[{"data":{"name":"l"},"transform":[{"filter":"datum.p==1950"}],"mark":{"type":"line","clip":true},"encoding":{"x":{"field":"v","type":"quantitative","scale":{"domain":[0,935],"nice":false,"zero":false},"axis":{"values":[0,500],"labels":true,"title":null}},"order":{"field":"d","type":"quantitative"}}}]},
{"title":{"text":["Nr: 651","2013","2361 m asl","dz=1.9 m"]},"encoding":{"y":{"field":"d","type":"quantitative","scale":{"domain":[0,5.7],"reverse":true,"nice":false,"zero":false},"axis":{"values":[0,1,2,3,4,5],"labels":false,"title":null}}},"layer":[{"data":{"name":"b"},"transform":[{"filter":"datum.p==651"}],"mark":"rect","encoding":{"y2":{"field":"e"},"x":{"value":0},"x2":{"value":"width"}}},{"data":{"name":"l"},"transform":[{"filter":"datum.p==651"}],"mark":{"type":"line","clip":true},"encoding":{"x":{"field":"v","type":"quantitative","scale":{"domain":[0,935],"nice":false,"zero":false},"axis":{"values":[0,500],"labels":true,"title":null}},"order":{"field":"d","type":"quantitative"}}}]},
{"title":{"text":["Nr: 693","2017","2361 m asl","dz=3.6 m"]},"encoding":{"y":{"field":"d","type":"quantitative","scale":{"domain":[0,5.7],"reverse":true,"nice":false,"zero":false},"axis":{"values":[0,1,2,3,4,5],"labels":false,"title":null}}},"layer":[{"data":{"name":"b"},"transform":[{"filter":"datum.p==693"}],"mark":"rect","encoding":{"y2":{"field":"e"},"x":{"value":0},"x2":{"value":"width"}}},{"data":{"name":"l"},"transform":[{"filter":"datum.p==693"}],"mark":{"type":"line","clip":true},"encoding":{"x":{"field":"v","type":"quantitative","scale":{"domain":[0,935],"nice":false,"zero":false},"axis":{"values":[0,500],"labels":true,"title":null}},"order":{"field":"d","type":"quantitative"}}}]},
{"title":{"text":["Nr: 694","2017","2372 m asl","dz=-0.8 m"]},"encoding":{"y":{"field":"d","type":"quantitative","scale":{"domain":[0,5.7],"reverse":true,"nice":false,"zero":false},"axis":{"values":[0,1,2,3,4,5],"labels":false,"title":null}}},"layer":[{"data":{"name":"l"},"transform":[{"filter":"datum.p==694"}],"mark":{"type":"line","clip":true},"encoding":{"x":{"field":"v","type":"quantitative","scale":{"domain":[0,935],"nice":false,"zero":false},"axis":{"values":[0,500],"labels":true,"title":null}},"order":{"field":"d","type":"quantitative"}}}]},
{"title":{"text":["Nr: 695","2017","2453 m asl","dz=0.1 m"]},"encoding":{"y":{"field":"d","type":"quantitative","scale":{"domain":[0,5.7],"reverse":true,"nice":false,"zero":false},"axis":{"values":[0,1,2,3,4,5],"labels":false,"title":null}}},"layer":[{"data":{"name":"l"},"transform":[{"filter":"datum.p==695"}],"mark":{"type":"line","clip":true},"encoding":{"x":{"field":"v","type":"quantitative","scale":{"domain":[0,935],"nice":false,"zero":false},"axis":{"values":[0,500],"labels":true,"title":null}},"order":{"field":"d","type":"quantitative"}}}]},
{"title":{"text":["Nr: 131","2011","2503 m asl","dz=0.1 m"]},"encoding":{"y":{"field":"d","type":"quantitative","scale":{"domain":[0,5.7],"reverse":true,"nice":false,"zero":false},"axis":{"values":[0,1,2,3,4,5],"labels":false,"title":null}}},"layer":[{"data":{"name":"l"},"transform":[{"filter":"datum.p==131"}],"mark":{"type":"line","clip":true},"encoding":{"x":{"field":"v","type":"quantitative","scale":{"domain":[0,935],"nice":false,"zero":false},"axis":{"values":[0,500],"labels":true,"title":null}},"order":{"field":"d","type":"quantitative"}}}]},
{"title":{"text":["Nr: 117","2011","2802 m asl","dz=0.0 m"]},"encoding":{"y":{"field":"d","type":"quantitative","scale":{"domain":[0,5.7],"reverse":true,"nice":false,"zero":false},"axis":{"values":[0,1,2,3,4,5],"labels":false,"title":null}}},"layer":[{"data":{"name":"l"},"transform":[{"filter":"datum.p==117"}],"mark":{"type":"line","clip":true},"encoding":{"x":{"field":"v","type":"quantitative","scale":{"domain":[0,935],"nice":false,"zero":false},"axis":{"values":[0,500],"labels":true,"title":null}},"order":{"field":"d","type":"quantitative"}}}]},
{"title":{"text":["Nr: 116","2011","2803 m asl","dz=0.1 m"]},"encoding":{"y":{"field":"d","type":"quantitative","scale":{"domain":[0,5.7],"reverse":true,"nice":false,"zero":false},"axis":{"values":[0,1,2,3,4,5],"labels":false,"title":null}}},"layer":[{"data":{"name":"l"},"transform":[{"filter":"datum.p==116"}],"mark":{"type":"line","clip":true},"encoding":{"x":{"field":"v","type":"quantitative","scale":{"domain":[0,935],"nice":false,"zero":false},"axis":{"values":[0,500],"labels":true,"title":null}},"order":{"field":"d","type":"quantitative"}}}]},
{"title":{"text":["Nr: 700","2017","3209 m asl","dz=2.2 m"]},"encoding":{"y":{"field":"d","type":"quantitative","scale":{"domain":[0,5.7],"reverse":true,"nice":false,"zero":false},"axis":{"values":[0,1,2,3,4,5],"labels":false,"title":null}}},"layer":[{"data":{"name":"l"},"transform":[{"filter":"datum.p==700"}],"mark":{"type":"line","clip":true},"encoding":{"x":{"field":"v","type":"quantitative","scale":{"domain":[0,935],"nice":false,"zero":false},"axis":{"values":[0,500],"labels":true,"title":null}},"order":{"field":"d","type":"quantitative"}}}]}
],
"config": {
"font": "DejaVu Sans",
"view": {"continuousWidth": 90, "continuousHeight": 345, "stroke": "black", "strokeWidth": 1.2},
"title": {"fontSize": 17.5, "fontWeight": "normal", "lineHeight": 20, "offset": 6, "color": "black", "limit": 300},
"axis": {"domain": false, "grid": true, "gridColor": "#b0b0b0", "gridWidth": 1, "ticks": true, "tickColor": "black", "tickSize": 6, "tickWidth": 1.2, "labelFontSize": 17, "labelColor": "black", "labelPadding": 8, "labelFlush": false, "labelOverlap": false, "titleFontSize": 23, "titleFontWeight": "normal", "titleColor": "black", "titlePadding": 14, "zindex": 1},
"rect": {"color": "#a0b4f0"},
"line": {"color": "black", "strokeWidth": 2.6, "interpolate": "step-before"}
}
}
